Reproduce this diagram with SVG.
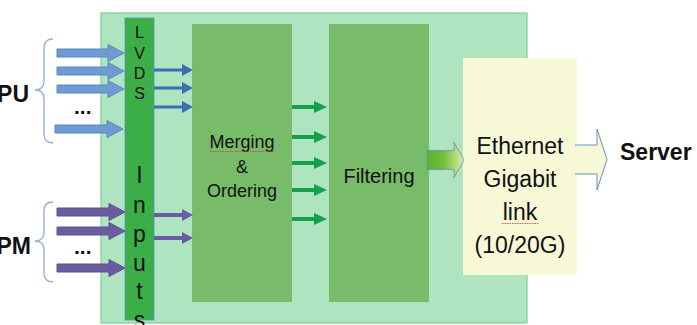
<svg xmlns="http://www.w3.org/2000/svg" width="697" height="325" viewBox="0 0 697 325">
<style>
text{font-family:"Liberation Sans",Arial,sans-serif;fill:#111}
.blk{fill:#78bb68}
.big{font-size:23px;text-anchor:middle}
.lv{font-size:16px;text-anchor:middle}
.inp{font-size:23px;text-anchor:middle}
.bold{font-weight:bold}
.barr{fill:#6f9bd3;stroke:#5b86c4;stroke-width:1}
.parr{fill:#6b5c9f;stroke:#5e5092;stroke-width:1}
.brace{fill:none;stroke:#8fb0dd;stroke-width:1.3}
.sq{fill:none;stroke:#e04040;stroke-width:0.9;stroke-dasharray:1.5 1}
</style>
<defs>
<linearGradient id="g1" x1="0" y1="0" x2="1" y2="0">
<stop offset="0" stop-color="#57b52a"/>
<stop offset="0.45" stop-color="#6fc03a"/>
<stop offset="1" stop-color="#e0eeaa"/>
</linearGradient>
</defs>
<rect width="697" height="325" fill="#fff"/>
<g id="board">
<rect x="101" y="13" width="426" height="310" fill="#aee4c0" stroke="#7ccf95" stroke-width="1.2"/>
</g>
<g id="lvds">
<rect x="125" y="18" width="29" height="302" fill="#3cae48" stroke="#5d8fb8" stroke-width="0.8"/>
<text class="lv" x="139.5" y="38">L</text>
<text class="lv" x="139.5" y="59">V</text>
<text class="lv" x="139.5" y="79">D</text>
<text class="lv" x="139.5" y="99">S</text>
<text class="inp" x="139.5" y="183">I</text>
<text class="inp" x="139.5" y="213">n</text>
<text class="inp" x="139.5" y="242">p</text>
<text class="inp" x="139.5" y="271">u</text>
<text class="inp" x="139.5" y="299">t</text>
<text class="inp" x="139.5" y="328">s</text>
</g>
<g id="merging">
<rect class="blk" x="192" y="24" width="100" height="278"/>
<text x="242" y="148" font-size="18" text-anchor="middle">Merging</text>
<text x="242" y="173" font-size="18" text-anchor="middle">&amp;</text>
<text x="242" y="197" font-size="18" text-anchor="middle">Ordering</text>
<path class="sq" d="M210,151.5 H275"/>
</g>
<g id="filtering">
<rect class="blk" x="329" y="24" width="100" height="278"/>
<text x="379" y="183" font-size="20" text-anchor="middle">Filtering</text>
</g>
<g id="ethernet">
<rect x="463" y="58" width="114" height="217" fill="#f6f8d6"/>
<text class="big" x="520" y="154">Ethernet</text>
<text class="big" x="520" y="187">Gigabit</text>
<text class="big" x="520" y="220">link</text>
<text class="big" x="520" y="253">(10/20G)</text>
<path class="sq" d="M502,223.5 H539"/>
</g>
<g id="server">
<text class="bold" x="620" y="160" font-size="23">Server</text>
</g>
<g id="cpu">
<text class="bold" x="29" y="102" font-size="23" text-anchor="end">PU</text>
<text class="bold" x="74" y="114" font-size="21">...</text>
<path class="brace" d="M53,39 Q44,39 44,48 V81 Q44,90 35,90 Q44,90 44,99 V134 Q44,143 53,143"/>
</g>
<g id="pm">
<text class="bold" x="31" y="254" font-size="23" text-anchor="end">PM</text>
<text class="bold" x="74" y="254" font-size="21">...</text>
<path class="brace" d="M53,202 Q44,202 44,211 V232 Q44,241 35,241 Q44,241 44,250 V273 Q44,282 53,282"/>
</g>
<g id="connectors">
<path class="barr" d="M57,49 H108 V44.5 L124,53 L108,61.5 V57 H57 Z"/>
<path class="barr" d="M57,67 H108 V62.5 L124,71 L108,79.5 V75 H57 Z"/>
<path class="barr" d="M57,85 H108 V80.5 L124,89 L108,97.5 V93 H57 Z"/>
<path class="barr" d="M55,125 H107 V120.5 L123,129 L107,137.5 V133 H55 Z"/>
<path class="parr" d="M57,208 H109 V203.5 L125,212 L109,220.5 V216 H57 Z"/>
<path class="parr" d="M57,227 H109 V222.5 L125,231 L109,239.5 V235 H57 Z"/>
<path class="parr" d="M57,264 H109 V259.5 L125,268 L109,276.5 V272 H57 Z"/>
<g fill="#3a6fb5">
<path d="M154,68.5 H182 V64 L193,70 L182,76 V71.5 H154 Z"/>
<path d="M154,86.5 H182 V82 L193,88 L182,94 V89.5 H154 Z"/>
<path d="M154,105.5 H182 V101 L193,107 L182,113 V108.5 H154 Z"/>
</g>
<g fill="#6b5ca3">
<path d="M154,213 H182 V209 L193,215 L182,221 V217 H154 Z"/>
<path d="M154,236 H182 V232 L193,238 L182,244 V240 H154 Z"/>
</g>
<g fill="#15a04a">
<path d="M292,105 H314 V101 L327,107 L314,113 V109 H292 Z"/>
<path d="M292,135 H314 V131 L327,137 L314,143 V139 H292 Z"/>
<path d="M292,161 H314 V157 L327,163 L314,169 V165 H292 Z"/>
<path d="M292,188 H314 V184 L327,190 L314,196 V192 H292 Z"/>
<path d="M292,217 H314 V213 L327,219 L314,225 V221 H292 Z"/>
</g>
<path d="M427,150.5 H454 V142 L464,160 L454,178 V169.5 H427 Z" fill="url(#g1)" stroke="#6a8fc6" stroke-width="0.8"/>
<path d="M575,145 H597 V129 L607,159.5 L597,190 V174 H575" fill="#f6f8d6" stroke="#6a8fc6" stroke-width="1"/>
</g>
</svg>
